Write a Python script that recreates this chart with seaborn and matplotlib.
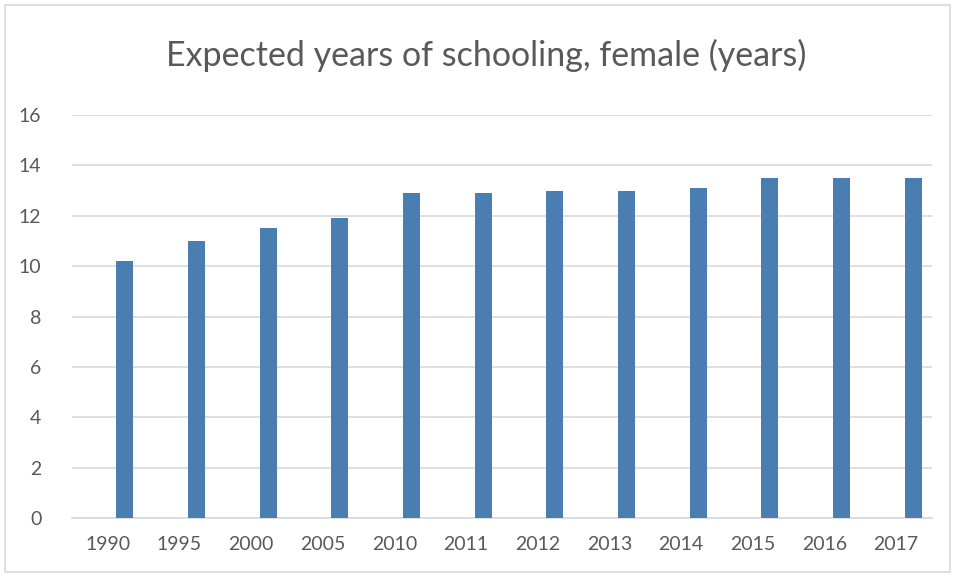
import pandas as pd
import matplotlib.pyplot as plt
import seaborn as sns
import numpy as np

# Chart values
years = ['1990', '1995', '2000', '2005', '2010', '2011', '2012', '2013',
         '2014', '2015', '2016', '2017']
schooling_female = [10.2, 11.0, 11.5, 11.9, 12.9, 12.9, 13.0, 13.0, 13.1, 13.5, 13.5, 13.5]
y_ticks = [0, 2, 4, 6, 8, 10, 12, 14, 16]

# Excel-style clustered layout: two empty series before the visible one
series_names = ['s1', 's2', 'Female']
rows = []
for name in series_names:
    for yr, val in zip(years, schooling_female):
        rows.append({'year': yr, 'series': name,
                     'value': val if name == 'Female' else 0.0})
data = pd.DataFrame(rows)

sns.set_style('white')
plt.rcParams['font.family'] = ['Lato', 'DejaVu Sans']

fig = plt.figure(figsize=(9.57, 5.77), dpi=100)
ax = fig.add_axes([72 / 957, 1 - 518 / 577, (932 - 72) / 957, (518 - 115) / 577])

sns.barplot(data=data, x='year', y='value', hue='series', order=years,
            hue_order=series_names,
            palette=['#4a7eb0', '#4a7eb0', '#4a7eb0'], saturation=1,
            width=0.71, dodge=True, linewidth=0, legend=False, ax=ax,
            errorbar=None, zorder=3)

ax.set_ylim(0, 16)
ax.set_xlim(-0.5, len(years) - 0.5)
ax.set_yticks(y_ticks)
ax.yaxis.grid(True, color='#d9d9d9', linewidth=1.2, zorder=0)
ax.set_axisbelow(True)
for side in ['top', 'right', 'left']:
    ax.spines[side].set_visible(False)
ax.spines['bottom'].set_color('#d9d9d9')
ax.spines['bottom'].set_linewidth(1.2)
ax.tick_params(axis='both', length=0, labelsize=14, colors='#595959')
ax.tick_params(axis='x', pad=13)
ax.tick_params(axis='y', pad=22)
ax.set_xlabel('')
ax.set_ylabel('')

fig.text(486 / 957, 1 - 55 / 577, 'Expected years of schooling, female (years)',
         ha='center', va='center', fontsize=24.5, color='#595959')

# light outer border of the chart area
fig.patches.append(plt.Rectangle((5 / 957, 5 / 577), 945 / 957, 567 / 577,
                                 transform=fig.transFigure, fill=False,
                                 edgecolor='#d9d9d9', linewidth=1.2))

plt.savefig('out.png', dpi=100)
